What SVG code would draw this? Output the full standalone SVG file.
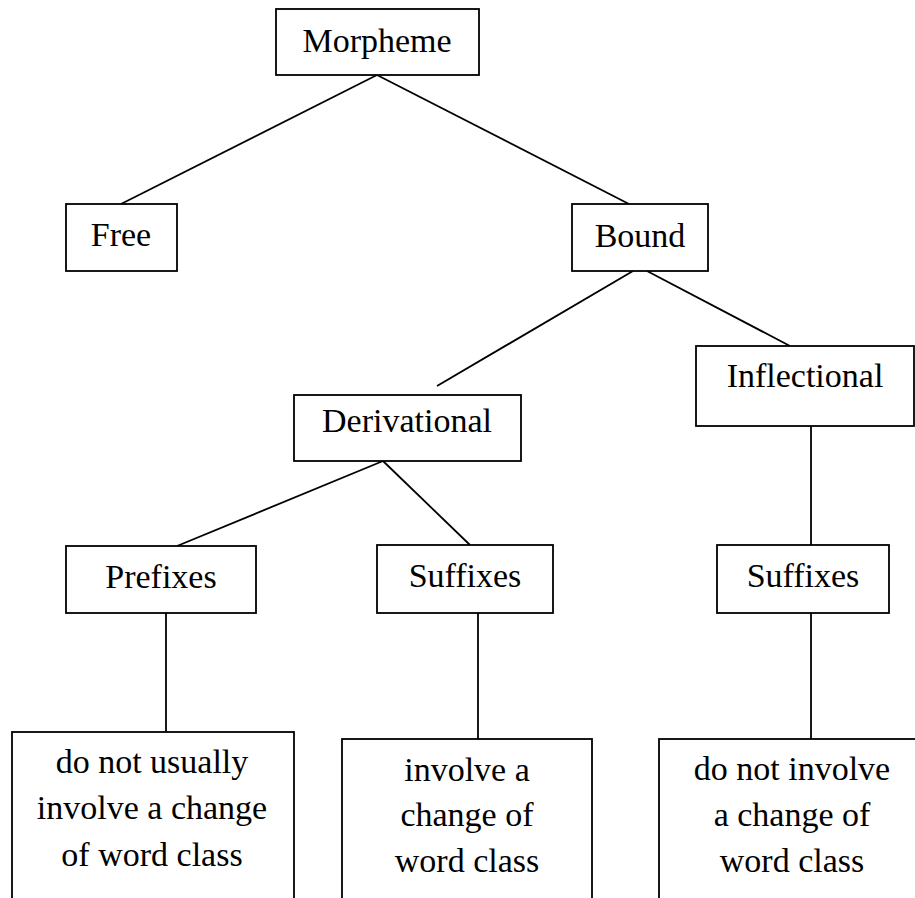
<svg xmlns="http://www.w3.org/2000/svg" width="915" height="898" viewBox="0 0 915 898">
<style>
rect{fill:#fff;stroke:#000;stroke-width:1.8}
line{stroke:#000;stroke-width:1.8}
text{font-family:"Liberation Serif","Times New Roman",serif;font-size:34px;fill:#000;text-anchor:middle}
</style>
<rect x="0" y="0" width="915" height="898" style="stroke:none"/>
<g id="connectors">
<line x1="377" y1="75" x2="121" y2="204"/>
<line x1="377" y1="75" x2="629" y2="204"/>
<line x1="633" y1="271" x2="437" y2="386"/>
<line x1="647" y1="271" x2="790" y2="346"/>
<line x1="383" y1="461" x2="177" y2="546"/>
<line x1="383" y1="461" x2="470" y2="545"/>
<line x1="166" y1="613" x2="166" y2="732"/>
<line x1="478" y1="613" x2="478" y2="739"/>
<line x1="811" y1="426" x2="811" y2="545"/>
<line x1="811" y1="613" x2="811" y2="739"/>
</g>
<g id="morpheme"><rect x="276" y="9" width="203" height="66"/><text x="377" y="52">Morpheme</text></g>
<g id="free"><rect x="66" y="204" width="111" height="67"/><text x="121" y="246">Free</text></g>
<g id="bound"><rect x="572" y="204" width="136" height="67"/><text x="640" y="247">Bound</text></g>
<g id="derivational"><rect x="294" y="395" width="227" height="66"/><text x="407" y="432">Derivational</text></g>
<g id="inflectional"><rect x="696" y="346" width="218" height="80"/><text x="805" y="387">Inflectional</text></g>
<g id="prefixes"><rect x="66" y="546" width="190" height="67"/><text x="161" y="588">Prefixes</text></g>
<g id="suffixes-der"><rect x="377" y="545" width="176" height="68"/><text x="465" y="587">Suffixes</text></g>
<g id="suffixes-inf"><rect x="717" y="545" width="172" height="68"/><text x="803" y="587">Suffixes</text></g>
<g id="note-prefixes"><rect x="12" y="732" width="282" height="180"/>
<text x="152" y="773">do not usually</text><text x="152" y="819">involve a change</text><text x="152" y="866">of word class</text></g>
<g id="note-suffixes-der"><rect x="342" y="739" width="250" height="180"/>
<text x="467" y="781">involve a</text><text x="467" y="826">change of</text><text x="467" y="872">word class</text></g>
<g id="note-suffixes-inf"><rect x="659" y="739" width="266" height="180"/>
<text x="792" y="780">do not involve</text><text x="792" y="826">a change of</text><text x="792" y="872">word class</text></g>
</svg>
